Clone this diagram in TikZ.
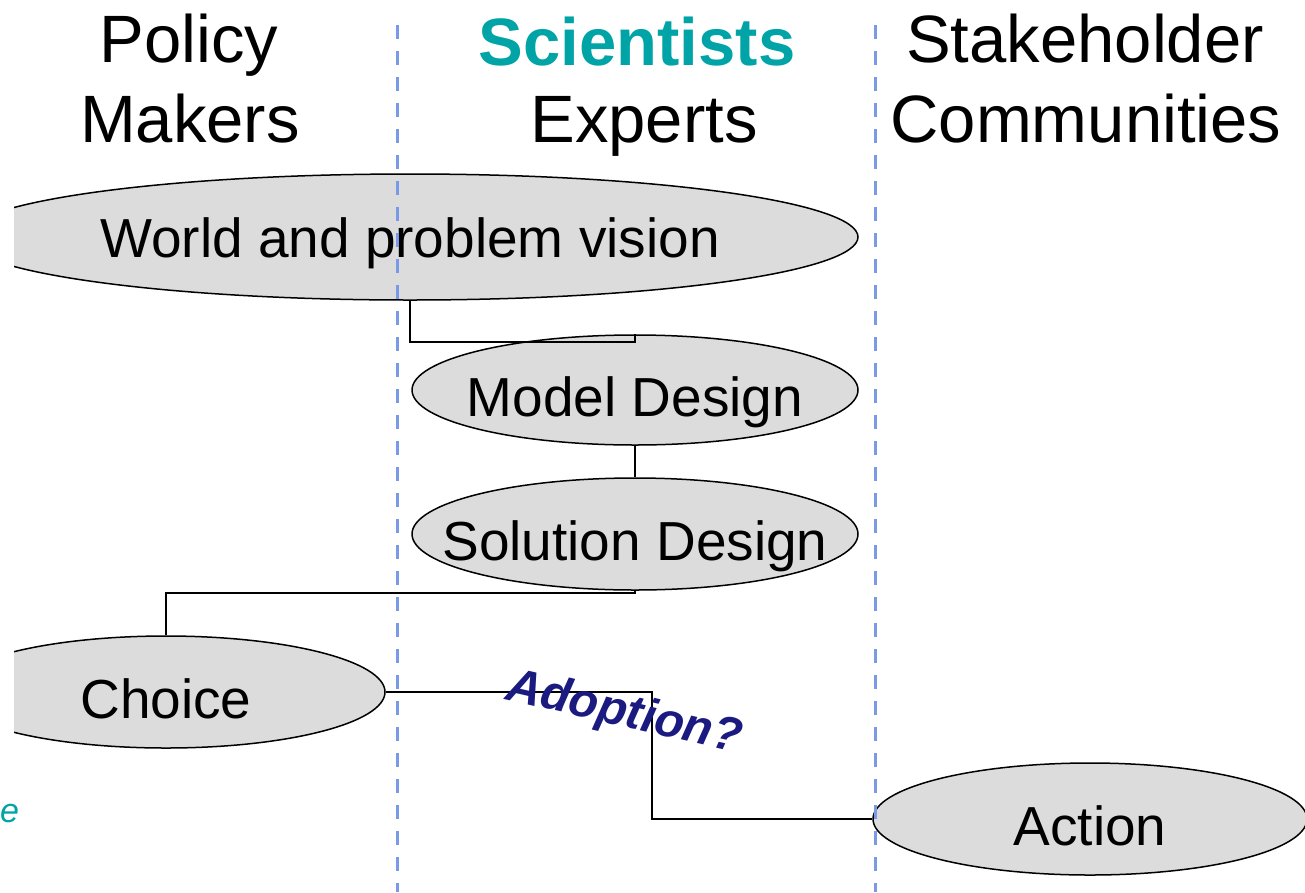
\documentclass[tikz,border=0pt]{standalone}
\usepackage{fontspec}
\setmainfont{Liberation Sans}
\usetikzlibrary{shapes.geometric}
\definecolor{divblue}{HTML}{7B9AE6}
\definecolor{sciteal}{HTML}{00A3A6}
\definecolor{adoptnavy}{HTML}{1A1A80}
\definecolor{ovalgray}{HTML}{DCDCDC}
\tikzset{
  oval/.style={ellipse,draw=black,line width=1.5pt,fill=ovalgray,inner ysep=0pt,inner xsep=-100pt,
    text height=56pt,text depth=4pt,font=\fontsize{55}{60}\selectfont},
  hdr/.style={anchor=base,inner sep=0pt,font=\fontsize{67}{80}\selectfont},
  divider/.style={divblue,line width=3pt,dash pattern=on 14pt off 12pt},
  link/.style={line width=2pt}
}
\begin{document}
\begin{tikzpicture}[x=1pt,y=-1pt]
\useasboundingbox (0,0) rectangle (1305,892);
\node (policy) [hdr] at (189,62) {Policy};
\node (makers) [hdr] at (190,142) {Makers};
\node (scientists) [hdr,text=sciteal,font=\fontsize{67}{80}\selectfont\bfseries] at (637,65) {Scientists};
\node (experts) [hdr] at (644,142) {Experts};
\node (stake) [hdr] at (1085,62) {Stakeholder};
\node (comm) [hdr] at (1086,142) {Communities};
\begin{scope}
\clip (14,0) rectangle (1305,892);
\node (world) [oval,text height=48pt,text depth=8pt,minimum width=896pt,minimum height=126pt] at (410,237) {World and problem vision};
\node (model) [oval,minimum width=446pt,minimum height=110pt] at (635,390) {Model Design};
\node (solution) [oval,minimum width=446pt,minimum height=112pt] at (635,534) {Solution Design};
\node (choice) [oval,minimum width=438pt,minimum height=112pt] at (166,692) {Choice};
\node (action) [oval,minimum width=434pt,minimum height=112pt] at (1090,819) {Action};
\end{scope}
\coordinate (bend) at (652,819);
\draw[link] (world.south) -- ++(0,41) -| (model.north);
\draw[link] (model) -- (solution);
\draw[link] (solution.south) -- ++(0,2) -| (choice.north);
\draw[link] (choice.east) -| (bend) -- (action.west);
\draw[divider] (397,25) -- (397,892);
\draw[divider] (875,25) -- (875,892);
\node (adoption) [text=adoptnavy,rotate=-13,font=\fontsize{48}{52}\selectfont\bfseries\itshape] at (624,714) {Adoption?};
\node (cutoff) [anchor=base west,inner sep=0pt,text=sciteal,font=\fontsize{34}{36}\selectfont\itshape] at (0,822) {e};
\end{tikzpicture}
\end{document}
